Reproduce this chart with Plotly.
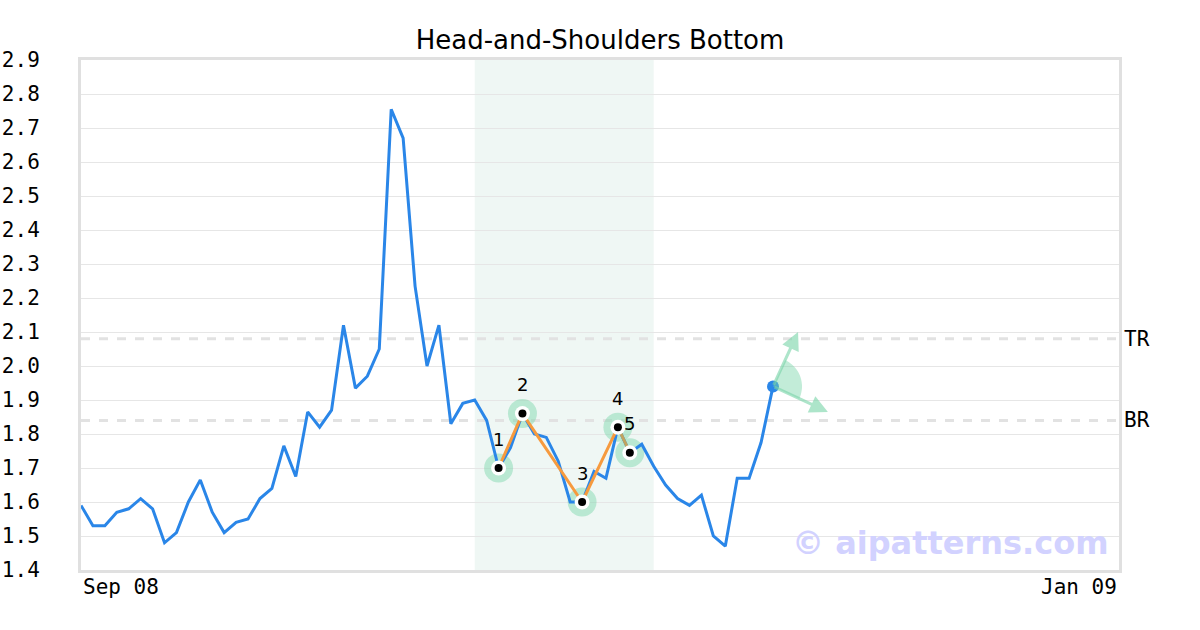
import numpy as np
import plotly.graph_objects as go

# daily closes, indexed by trading day from Sep 08
prices = [1.59, 1.53, 1.53, 1.57, 1.58, 1.61, 1.58, 1.48, 1.51, 1.60,
          1.665, 1.57, 1.51, 1.54, 1.55, 1.61, 1.64, 1.765, 1.675, 1.865,
          1.82, 1.87, 2.12, 1.935, 1.97, 2.05, 2.755, 2.67, 2.235, 2.00,
          2.12, 1.83, 1.89, 1.90, 1.84, 1.70, 1.76, 1.86, 1.80, 1.79,
          1.72, 1.60, 1.60, 1.69, 1.67, 1.82, 1.745, 1.77, 1.705, 1.65,
          1.61, 1.59, 1.62, 1.50, 1.47, 1.67, 1.67, 1.775, 1.94]
days = list(range(len(prices)))
x_end = 87
x_labels = ["Sep 08", "Jan 09"]

pattern_idx = [35, 37, 42, 45, 46]
pattern_val = [1.70, 1.86, 1.60, 1.82, 1.745]
pattern_lbl = ["1", "2", "3", "4", "5"]
zone = [33, 48]

top_res = 2.08
bot_res = 1.84

cur_idx = 58
cur_val = 1.94
arrow_up = (60.1, 2.10)
arrow_dn = (62.6, 1.865)

y_ticks = [round(1.4 + 0.1 * i, 1) for i in range(16)]

font_mono = "DejaVu Sans Mono"
green = "rgba(120,212,168,0.45)"

fig = go.Figure()

# halos sit under the lines
fig.add_trace(go.Scatter(x=pattern_idx, y=pattern_val, mode="markers",
                         marker=dict(size=29, color=green)))

fig.add_trace(go.Scatter(x=days, y=prices, mode="lines",
                         line=dict(color="#2a86e8", width=3), hoverinfo="skip"))

# pattern legs
fig.add_trace(go.Scatter(x=pattern_idx[:4], y=pattern_val[:4], mode="lines",
                         line=dict(color="#f69a3e", width=3)))
fig.add_trace(go.Scatter(x=pattern_idx[3:], y=pattern_val[3:], mode="lines",
                         line=dict(color="#c2a35e", width=3)))

fig.add_trace(go.Scatter(x=pattern_idx, y=pattern_val, mode="markers",
                         marker=dict(size=15, color="white")))
fig.add_trace(go.Scatter(x=pattern_idx, y=pattern_val, mode="markers",
                         marker=dict(size=8, color="black")))

fig.add_trace(go.Scatter(x=[cur_idx], y=[cur_val], mode="markers",
                         marker=dict(size=12, color="#2a86e8")))

# breakout zone
fig.add_shape(type="rect", xref="x", yref="paper", x0=zone[0], x1=zone[1],
              y0=0, y1=1, fillcolor="#eff7f4", line_width=0, layer="below")

for lvl, name in [(top_res, "TR"), (bot_res, "BR")]:
    fig.add_shape(type="line", xref="paper", yref="y", x0=0, x1=1, y0=lvl, y1=lvl,
                  line=dict(color="#e2e2e2", width=3, dash="dash"), layer="below")
    fig.add_annotation(xref="paper", yref="y", x=1, y=lvl, text=name, showarrow=False,
                       xanchor="left", xshift=3, font=dict(family=font_mono, size=21, color="black"))

# wedge between the two projection arrows (pixel offsets around the last point)
a0, a1 = np.radians(-25), np.radians(65)
ang = np.linspace(a0, a1, 24)
rad = 29
pts = " ".join(f"L{rad*np.cos(a):.1f},{rad*np.sin(a):.1f}" for a in ang)
fig.add_shape(type="path", xsizemode="pixel", ysizemode="pixel", xanchor=cur_idx, yanchor=cur_val,
              xref="x", yref="y", path=f"M0,0 {pts} Z", fillcolor=green, line_width=0)

for tip in [arrow_up, arrow_dn]:
    fig.add_annotation(x=tip[0], y=tip[1], ax=cur_idx, ay=cur_val, xref="x", yref="y",
                       axref="x", ayref="y", text="", showarrow=True, arrowhead=2,
                       arrowsize=1.2, arrowwidth=3, arrowcolor="rgba(120,212,168,0.6)")

for i, v, t in zip(pattern_idx, pattern_val, pattern_lbl):
    fig.add_annotation(x=i, y=v, text=t, showarrow=False, yshift=29,
                       font=dict(family="DejaVu Sans", size=18, color="black"))

fig.add_annotation(xref="x", yref="paper", x=0, y=0, text=x_labels[0], showarrow=False,
                   xanchor="left", yanchor="top", yshift=-3,
                   font=dict(family=font_mono, size=21, color="black"))
fig.add_annotation(xref="x", yref="paper", x=x_end, y=0, text=x_labels[1], showarrow=False,
                   xanchor="right", yanchor="top", yshift=-3,
                   font=dict(family=font_mono, size=21, color="black"))

fig.add_annotation(xref="paper", yref="paper", x=0.992, y=0.053, text="<b>© aipatterns.com</b>",
                   showarrow=False, xanchor="right", yanchor="middle",
                   font=dict(family="DejaVu Sans", size=32, color="#d2d2ff"))

fig.update_layout(
    width=1200, height=630,
    margin=dict(l=81, r=81, t=60, b=60, autoexpand=False),
    paper_bgcolor="white", plot_bgcolor="white",
    showlegend=False,
    title=dict(text="Head-and-Shoulders Bottom", x=0.5, xanchor="center", y=0.937, yanchor="middle",
               font=dict(family="DejaVu Sans", size=26, color="black")),
    xaxis=dict(range=[0, x_end], showgrid=False, zeroline=False, showticklabels=False,
               showline=True, mirror=True, linecolor="#e0e0e0", linewidth=3, ticks="",
               automargin=False),
    yaxis=dict(range=[1.4, 2.9], tickvals=y_ticks, tickformat=".1f", showgrid=True,
               gridcolor="#e6e6e6", gridwidth=1, zeroline=False, showline=True, mirror=True,
               linecolor="#e0e0e0", linewidth=3, ticks="", ticklabelstandoff=34,
               automargin=False, tickfont=dict(family=font_mono, size=21, color="black")),
)

# drop the default 8px body margin so the figure fills the window
fig.write_html("out.html", config={"displayModeBar": False},
               post_script="document.body.style.margin='0';")
